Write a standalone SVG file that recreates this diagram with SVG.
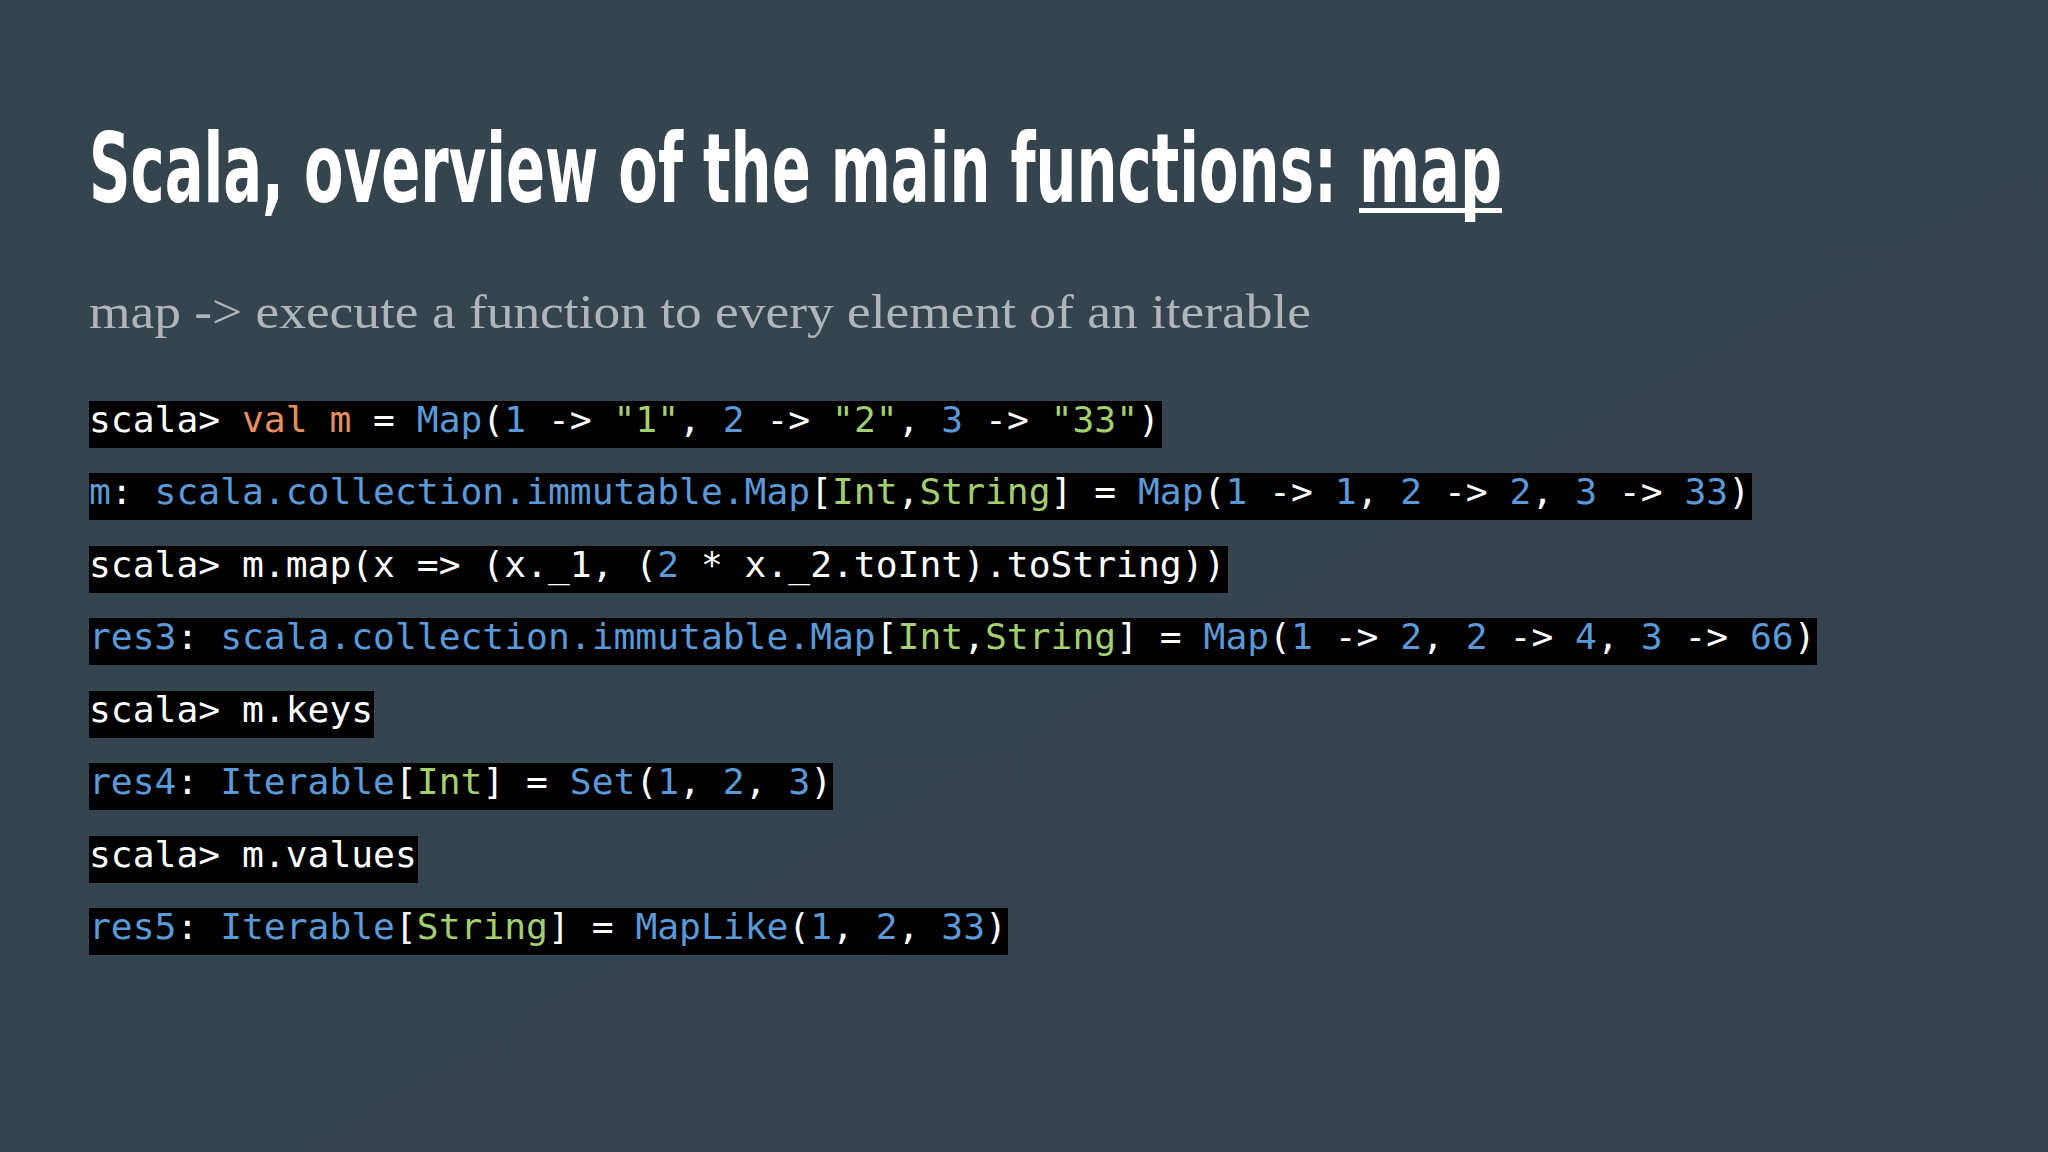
<svg xmlns="http://www.w3.org/2000/svg" width="2048" height="1152" viewBox="0 0 2048 1152">
<defs>
<linearGradient id="bg" x1="0" y1="0" x2="1" y2="1">
<stop offset="0" stop-color="#35454e"/><stop offset="1" stop-color="#35444e"/>
</linearGradient>
<style>
.code{font-family:"DejaVu Sans Mono","Liberation Mono",monospace;font-size:36.3px;fill:#ffffff}
.b{fill:#5a9ad8}.g{fill:#a3cf6f}.o{fill:#e7905e}
.box{fill:#000000}
.ttl{font-family:'DejaVu Sans Condensed','DejaVu Sans',sans-serif;font-weight:bold;font-size:96px;fill:#ffffff}
</style>
</defs>
<rect width="2048" height="1152" fill="url(#bg)"/>
<g id="title">
<text class="ttl" x="89" y="202" textLength="1248" lengthAdjust="spacingAndGlyphs">Scala, overview of the main functions:</text>
<text class="ttl" x="1359" y="202" textLength="143" lengthAdjust="spacingAndGlyphs">map</text>
<rect x="1359" y="208" width="143" height="5" fill="#ffffff"/>
</g>
<g id="subtitle">
<text x="89" y="328" font-family="'Liberation Serif',serif" font-size="48" fill="#aeb6ba" textLength="1222" lengthAdjust="spacingAndGlyphs">map -&gt; execute a function to every element of an iterable</text>
</g>
<g id="code" xml:space="preserve">
<rect class="box" x="89" y="401" width="1073" height="47"/>
<text class="code" x="89" y="432">scala&gt; <tspan class="o">val m</tspan> = <tspan class="b">Map</tspan>(<tspan class="b">1</tspan> -&gt; <tspan class="g">"1"</tspan>, <tspan class="b">2</tspan> -&gt; <tspan class="g">"2"</tspan>, <tspan class="b">3</tspan> -&gt; <tspan class="g">"33"</tspan>)</text>
<rect class="box" x="89" y="473" width="1663" height="47"/>
<text class="code" x="89" y="504"><tspan class="b">m</tspan>: <tspan class="b">scala.collection.immutable.Map</tspan>[<tspan class="g">Int</tspan>,<tspan class="g">String</tspan>] = <tspan class="b">Map</tspan>(<tspan class="b">1</tspan> -&gt; <tspan class="b">1</tspan>, <tspan class="b">2</tspan> -&gt; <tspan class="b">2</tspan>, <tspan class="b">3</tspan> -&gt; <tspan class="b">33</tspan>)</text>
<rect class="box" x="89" y="546" width="1139" height="47"/>
<text class="code" x="89" y="577">scala&gt; m.map(x =&gt; (x._1, (<tspan class="b">2</tspan> * x._2.toInt).toString))</text>
<rect class="box" x="89" y="618" width="1728" height="47"/>
<text class="code" x="89" y="649"><tspan class="b">res3</tspan>: <tspan class="b">scala.collection.immutable.Map</tspan>[<tspan class="g">Int</tspan>,<tspan class="g">String</tspan>] = <tspan class="b">Map</tspan>(<tspan class="b">1</tspan> -&gt; <tspan class="b">2</tspan>, <tspan class="b">2</tspan> -&gt; <tspan class="b">4</tspan>, <tspan class="b">3</tspan> -&gt; <tspan class="b">66</tspan>)</text>
<rect class="box" x="89" y="691" width="285" height="47"/>
<text class="code" x="89" y="722">scala&gt; m.keys</text>
<rect class="box" x="89" y="763" width="744" height="47"/>
<text class="code" x="89" y="794"><tspan class="b">res4</tspan>: <tspan class="b">Iterable</tspan>[<tspan class="g">Int</tspan>] = <tspan class="b">Set</tspan>(<tspan class="b">1</tspan>, <tspan class="b">2</tspan>, <tspan class="b">3</tspan>)</text>
<rect class="box" x="89" y="836" width="329" height="47"/>
<text class="code" x="89" y="867">scala&gt; m.values</text>
<rect class="box" x="89" y="908" width="919" height="47"/>
<text class="code" x="89" y="939"><tspan class="b">res5</tspan>: <tspan class="b">Iterable</tspan>[<tspan class="g">String</tspan>] = <tspan class="b">MapLike</tspan>(<tspan class="b">1</tspan>, <tspan class="b">2</tspan>, <tspan class="b">33</tspan>)</text>
</g>
</svg>
